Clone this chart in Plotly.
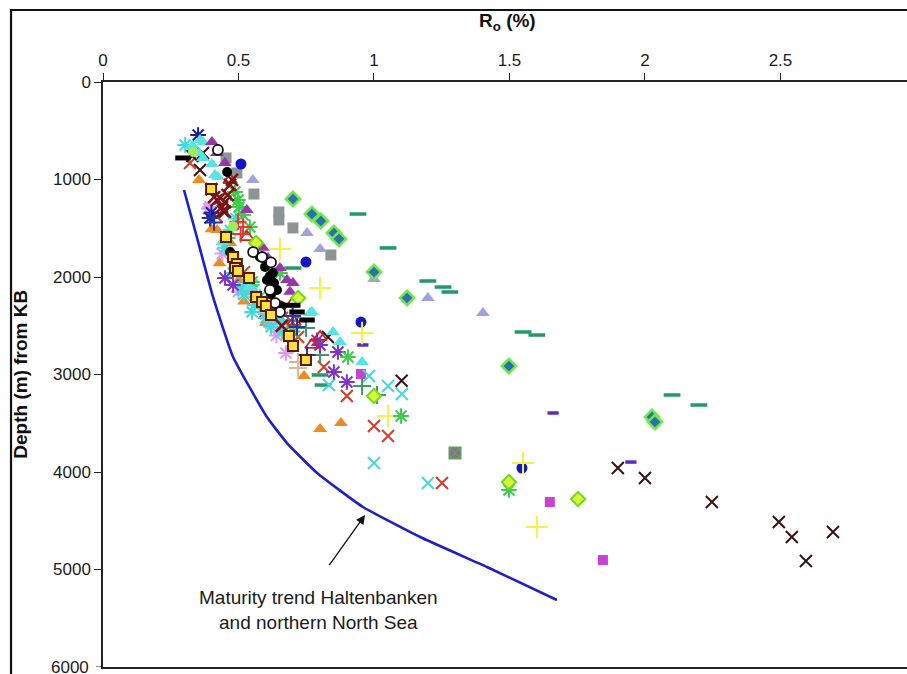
import plotly.graph_objects as go

# ---- data (Ro %, depth m) ----
trend_ro = [0.299, 0.346, 0.406, 0.480, 0.605, 0.679, 0.790, 0.959, 1.170, 1.417, 1.675]
trend_depth = [1108, 1587, 2205, 2820, 3436, 3703, 4010, 4359, 4667, 4974, 5313]

yel_sq_ro = [0.399, 0.454, 0.480, 0.494, 0.487, 0.498, 0.539, 0.565, 0.587, 0.601, 0.620, 0.686, 0.701, 0.749]
yel_sq_d = [1097, 1590, 1795, 1867, 1908, 1938, 2010, 2205, 2256, 2297, 2390, 2605, 2708, 2851]

blk_ci_ro = [0.458, 0.469, 0.554, 0.579, 0.598, 0.616, 0.627, 0.631, 0.642, 0.605, 0.620, 0.660]
blk_ci_d = [923, 1744, 1744, 1795, 1897, 1990, 1959, 2062, 2133, 2030, 2180, 2300]

opn_ci_ro = [0.424, 0.554, 0.587, 0.616, 0.635, 0.653, 0.620]
opn_ci_d = [697, 1744, 1795, 2133, 2267, 2359, 1850]

pur_tri_ro = [0.402, 0.421, 0.531, 0.609, 0.653, 0.679, 0.701, 0.690, 0.630, 0.590, 0.450]
pur_tri_d = [615, 728, 1313, 1805, 1908, 2031, 2062, 2150, 2110, 1700, 830]

cy_tri_ro = [0.358, 0.354, 0.369, 0.402, 0.413, 0.424, 0.771, 0.764, 0.849, 0.875, 0.956, 0.440, 0.540, 0.620, 0.330, 0.370]
cy_tri_d = [595, 728, 779, 841, 954, 975, 2359, 2369, 2564, 2667, 2872, 1640, 2100, 2430, 650, 620]

cy_x_ro = [1.000, 1.199, 1.052, 1.103, 0.982, 0.834]
cy_x_d = [3908, 4113, 3118, 3200, 3015, 3108]

red_x_ro = [1.251, 1.000, 1.052, 0.900, 0.815, 0.720, 0.321, 0.520, 0.600, 0.660, 0.700, 0.420]
red_x_d = [4113, 3528, 3631, 3221, 2923, 2615, 831, 1950, 2350, 2420, 2470, 1380]

dk_x_ro = [1.102, 1.900, 2.000, 2.247, 2.494, 2.542, 2.694, 2.594, 0.830, 0.358, 0.369, 0.330]
dk_x_d = [3064, 3959, 4062, 4308, 4513, 4667, 4615, 4913, 2615, 903, 728, 760]

gr_dash_ro = [0.941, 1.052, 1.199, 1.255, 1.280, 1.550, 1.601, 0.701, 0.801, 0.812, 2.100, 2.199]
gr_dash_d = [1354, 1702, 2041, 2103, 2154, 2564, 2595, 1908, 3005, 3108, 3210, 3313]

gr_dia_ro = [0.701, 0.771, 0.804, 0.852, 0.871, 1.000, 1.122, 1.498, 2.026, 2.037]
gr_dia_d = [1200, 1354, 1426, 1549, 1610, 1949, 2215, 2913, 3436, 3487]

lav_tri_ro = [0.553, 0.753, 0.801, 1.000, 1.199, 1.402]
lav_tri_d = [1005, 1549, 1713, 2020, 2215, 2369]

gray_sq_ro = [0.454, 0.494, 0.557, 0.649, 0.649, 0.701, 0.841]
gray_sq_d = [779, 933, 1149, 1333, 1415, 1497, 1774]

blue_ci_ro = [0.509, 0.749, 0.952, 1.546]
blue_ci_d = [841, 1846, 2462, 3959]

yel_pl_ro = [0.653, 0.801, 0.956, 1.052, 1.550, 1.601]
yel_pl_d = [1713, 2113, 2574, 3426, 3908, 4564]

mag_sq_ro = [0.952, 1.649, 1.845]
mag_sq_d = [2995, 4308, 4903]

gy_dia_ro = [0.720, 1.000, 1.753, 1.498, 0.565]
gy_dia_d = [2215, 3221, 4277, 4103, 1651]

gr_ast_ro = [1.100, 0.904, 1.498, 0.487, 0.498, 0.502, 0.517, 0.542, 0.653, 0.550, 0.620, 0.700, 0.460]
gr_ast_d = [3426, 2820, 4185, 1128, 1210, 1282, 1364, 1487, 1959, 2050, 2300, 2560, 1600]

pur_ast_ro = [0.852, 0.900, 0.867, 0.450, 0.480, 0.801, 0.790]
pur_ast_d = [2974, 3077, 2769, 2010, 2082, 2697, 2650]

or_tri_ro = [0.801, 0.878, 0.742, 0.354, 0.421, 0.469, 0.502, 0.601, 0.550, 0.430, 0.520, 0.470, 0.400]
or_tri_d = [3559, 3497, 3015, 1005, 1518, 1744, 2031, 2472, 2150, 1860, 2250, 1650, 1510]

gr_pl_ro = [0.956, 1.011, 0.801, 0.749, 0.700]
gr_pl_d = [3118, 3210, 2800, 2523, 2450]

pur_dash_ro = [1.661, 1.948, 0.959]
pur_dash_d = [3395, 3898, 2697]

br_x_ro = [0.432, 0.450, 0.439, 0.421, 0.443, 0.469, 0.460, 0.476, 0.620, 0.660, 0.400, 0.450, 0.410]
br_x_d = [1190, 1231, 1282, 1210, 1323, 1056, 1160, 1005, 2290, 2500, 1100, 1330, 1180]

pk_ast_ro = [0.675, 0.395, 0.531, 0.565, 0.600, 0.640, 0.580, 0.500, 0.620, 0.440, 0.390]
pk_ast_d = [2779, 1282, 2133, 2205, 2380, 2600, 2250, 2150, 2480, 1760, 1300]

cy_ast_ro = [0.303, 0.517, 0.550, 0.579, 0.550, 0.653, 0.490, 0.470, 0.520, 0.560, 0.600, 0.480, 0.450, 0.620, 0.660]
cy_ast_d = [646, 2103, 2082, 2205, 2359, 2441, 1400, 1520, 2180, 2290, 2420, 1960, 1700, 2510, 2560]

bk_dash_ro = [0.295, 0.716, 0.753, 0.700]
bk_dash_d = [779, 2359, 2441, 2290]

bl_pl_ro = [0.716, 0.753, 0.395, 0.410, 0.700]
bl_pl_d = [2513, 2800, 1395, 1440, 2400]

red_otri_ro = [0.701, 0.705, 0.801, 0.771, 0.469, 0.531]
red_otri_d = [2267, 2461, 2615, 2697, 1005, 1590]

tan_pl_ro = [0.720, 0.720]
tan_pl_d = [2872, 2933]

navy_ast_ro = [0.351, 0.395, 0.400]
navy_ast_d = [544, 1395, 1340]

red_pl_ro = [0.498, 0.517, 0.508, 0.630]
red_pl_d = [1433, 1487, 1560, 2250]

lg_ci_ro = [0.332, 0.600, 0.480]
lg_ci_d = [718, 2320, 1480]

boxx_ro = [1.299]
boxx_d = [3805]

x_ticks = [0, 0.5, 1, 1.5, 2, 2.5]
x_tick_text = ["0", "0.5", "1", "1.5", "2", "2.5"]
y_ticks = [0, 1000, 2000, 3000, 4000, 5000]
y_bottom_label = "6000"

FONT = "Liberation Sans, Arial, sans-serif"

fig = go.Figure()

def add(xs, ys, symbol, color, size=10, lw=1.5, lcolor=None):
    open_sym = symbol.endswith("open")
    marker = dict(symbol=symbol, size=size, color=color)
    if open_sym:
        marker["line"] = dict(color=color, width=lw)
    else:
        marker["line"] = dict(color=lcolor if lcolor else color, width=lw if lcolor else 0)
    fig.add_trace(go.Scatter(x=xs, y=ys, mode="markers", marker=marker,
                             showlegend=False, hoverinfo="skip"))

add(gray_sq_ro, gray_sq_d, "square", "#8c9494", 11)
add(lav_tri_ro, lav_tri_d, "triangle-up", "#a0a2de", 12)
add(gr_dia_ro, gr_dia_d, "diamond", "#2f6fb0", 11, 2.5, "#6ee84a")
add(gr_dash_ro, gr_dash_d, "line-ew-open", "#1f9a68", 12, 3.5)
add(pur_dash_ro, pur_dash_d, "line-ew-open", "#5a2ac0", 8, 3.5)
add(blue_ci_ro, blue_ci_d, "circle", "#1414c8", 11)
add(yel_pl_ro, yel_pl_d, "cross-thin-open", "#f6f048", 16, 2)
add(mag_sq_ro, mag_sq_d, "square", "#cc40d8", 10)
add(boxx_ro, boxx_d, "square-x", "#b050b0", 11, 2, "#5fa060")
add(cy_x_ro, cy_x_d, "x-thin-open", "#48d8d8", 12, 2)
add(red_x_ro, red_x_d, "x-thin-open", "#d83a2a", 12, 2)
add(dk_x_ro, dk_x_d, "x-thin-open", "#3a1212", 12, 2)
add(gr_pl_ro, gr_pl_d, "cross-thin-open", "#3a9a6a", 13, 2)
add(tan_pl_ro, tan_pl_d, "cross-thin-open", "#dcb898", 13, 2)
add(or_tri_ro, or_tri_d, "triangle-up", "#ee8a20", 12)
add(pk_ast_ro, pk_ast_d, "asterisk-open", "#e29aee", 13, 2)
add(cy_ast_ro, cy_ast_d, "asterisk-open", "#40dada", 13, 2)
add(pur_ast_ro, pur_ast_d, "asterisk-open", "#7a34cc", 13, 2)
add(gr_ast_ro, gr_ast_d, "asterisk-open", "#3ccc48", 13, 2)
add(navy_ast_ro, navy_ast_d, "asterisk-open", "#1c1c96", 13, 2)
add(cy_tri_ro, cy_tri_d, "triangle-up", "#58e4e4", 12)
add(pur_tri_ro, pur_tri_d, "triangle-up", "#9a34ac", 12)
add(red_otri_ro, red_otri_d, "triangle-up-open", "#cc2222", 12, 1.8)
add(br_x_ro, br_x_d, "x-thin-open", "#7a1414", 12, 2.5)
add(red_pl_ro, red_pl_d, "cross-thin-open", "#ee3434", 12, 2)
add(bl_pl_ro, bl_pl_d, "cross-thin-open", "#2234aa", 12, 2)
add(gy_dia_ro, gy_dia_d, "diamond", "#d4ff38", 11, 2, "#70d820")
add(lg_ci_ro, lg_ci_d, "circle", "#9aee58", 10)
add(blk_ci_ro, blk_ci_d, "circle", "#000000", 10)
add(opn_ci_ro, opn_ci_d, "circle", "#ffffff", 10, 1.8, "#111111")
add(bk_dash_ro, bk_dash_d, "line-ew-open", "#000000", 11, 5)
add(yel_sq_ro, yel_sq_d, "square", "#ffe23c", 10, 2, "#5a1a00")

fig.add_trace(go.Scatter(x=trend_ro, y=trend_depth, mode="lines",
                         line=dict(color="#1e1ecc", width=2.6, shape="spline", smoothing=0.4),
                         showlegend=False, hoverinfo="skip"))

fig.update_layout(
    width=907, height=674,
    margin=dict(l=103, r=0, t=82, b=7),
    paper_bgcolor="white", plot_bgcolor="white",
    font=dict(family=FONT, size=17, color="#1a1a1a"),
    xaxis=dict(side="top", range=[0, 2.967], tickvals=x_ticks, ticktext=x_tick_text,
               ticks="outside", ticklen=7, tickwidth=1, tickcolor="#222",
               showline=True, linecolor="#222", linewidth=1.5, mirror=True,
               showgrid=False, zeroline=False, tickfont=dict(size=17)),
    yaxis=dict(range=[6000, 0], tickvals=y_ticks, ticks="outside", ticklen=7,
               tickwidth=1, tickcolor="#222", showline=True, linecolor="#222",
               linewidth=1.5, showgrid=False, zeroline=False, tickfont=dict(size=17)),
    shapes=[
        dict(type="rect", xref="paper", yref="paper",
             x0=-0.1144, x1=1.2, y0=-0.3, y1=1.1231,
             line=dict(color="#111", width=2.2), fillcolor="rgba(0,0,0,0)"),
        dict(type="line", xref="paper", yref="y", x0=-7 / 804, x1=0, y0=6000, y1=6000,
             line=dict(color="#222", width=1)),
    ],
    annotations=[
        dict(text="<b>R<sub>o</sub> (%)</b>", xref="paper", yref="paper",
             x=0.503, y=1.1026, xanchor="center", yanchor="middle",
             showarrow=False, font=dict(size=19, color="#111")),
        dict(text="<b>Depth (m) from KB</b>", xref="paper", yref="paper",
             x=-0.103, y=0.5, xanchor="center", yanchor="middle",
             textangle=-90, showarrow=False, font=dict(size=19, color="#111")),
        dict(text=y_bottom_label, xref="paper", yref="y", x=-12 / 804, y=6000,
             xanchor="right", yanchor="middle", showarrow=False,
             font=dict(size=17, color="#1a1a1a")),
        dict(text="Maturity trend Haltenbanken<br>and northern North Sea",
             x=0.797, y=5415, xref="x", yref="y", showarrow=False, align="center",
             font=dict(size=19, color="#1a1a1a")),
        dict(text="", x=0.967, y=4441, ax=0.831, ay=4971, xref="x", yref="y",
             axref="x", ayref="y", showarrow=True, arrowhead=2, arrowsize=1.4,
             arrowwidth=1.3, arrowcolor="#111"),
    ],
)

fig.write_html("out.html")
